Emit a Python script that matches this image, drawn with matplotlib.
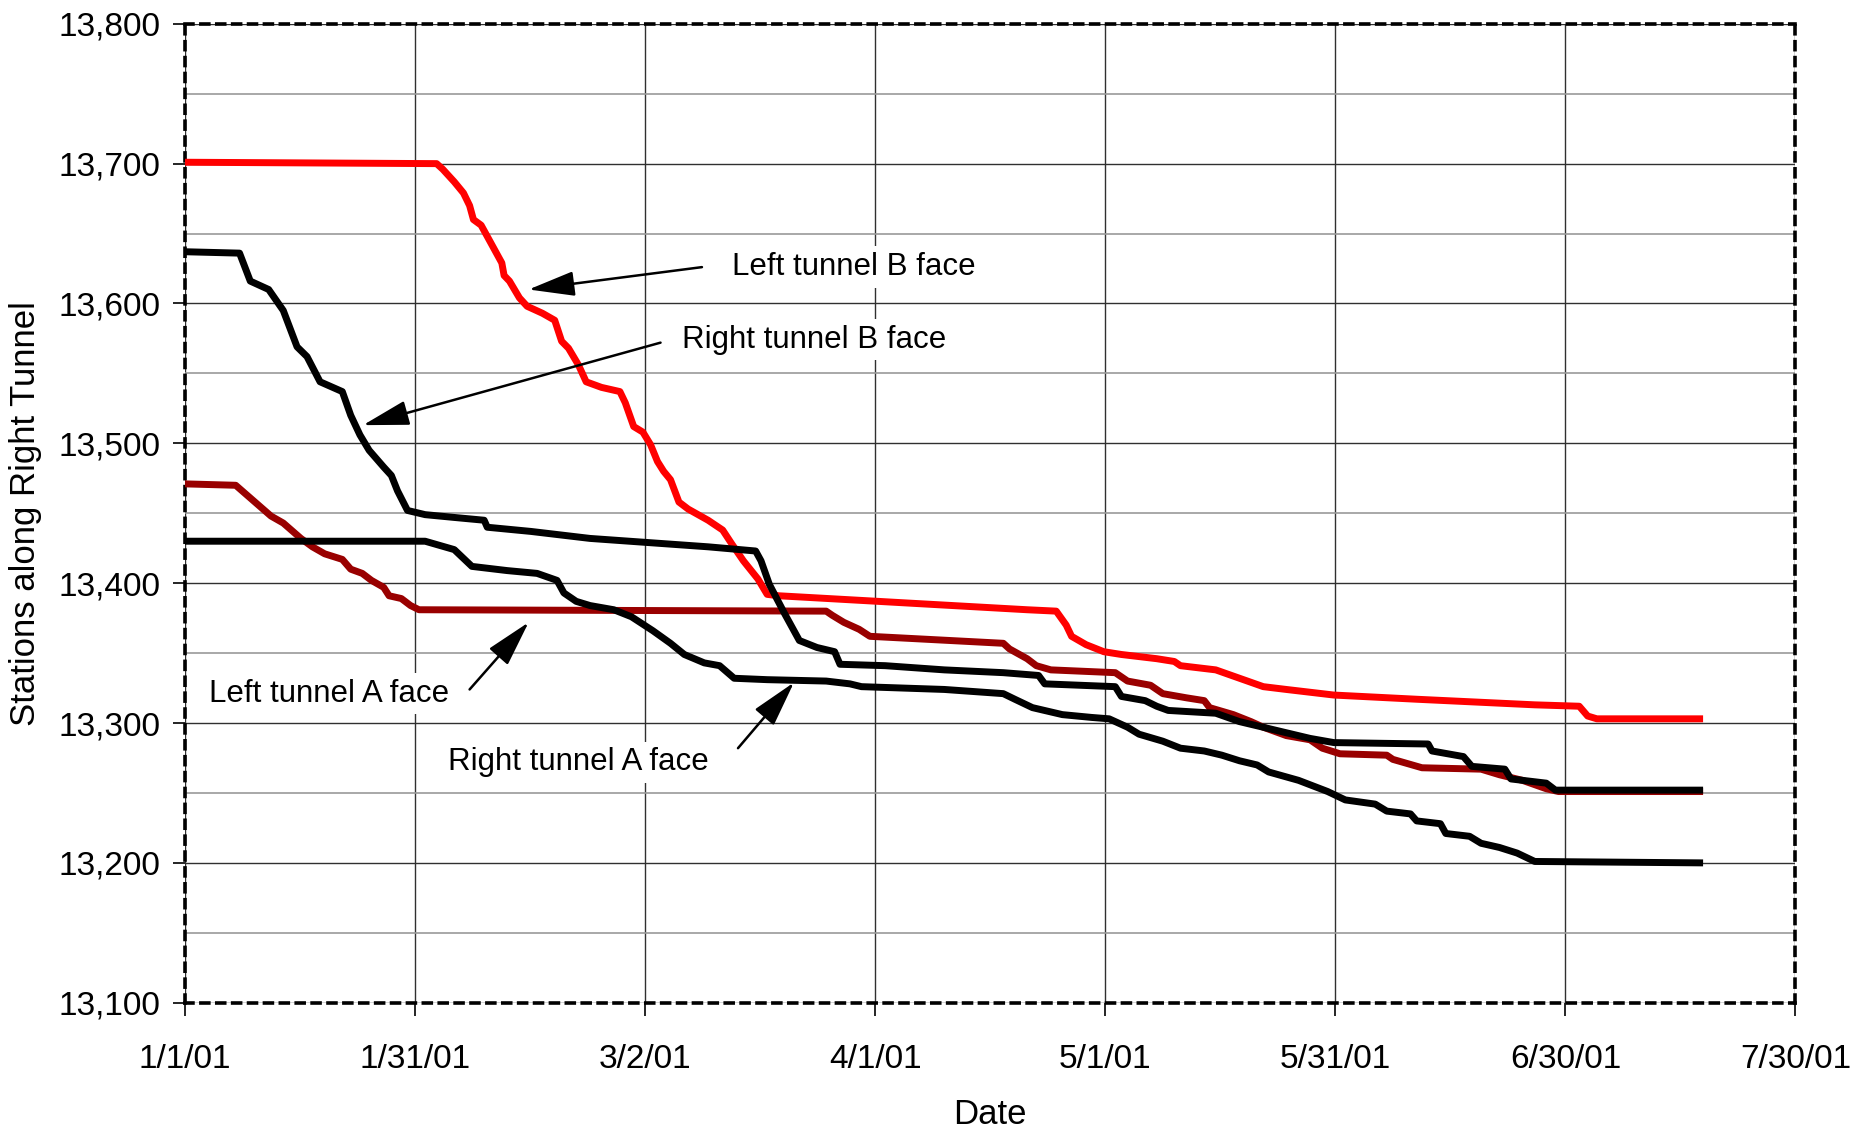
import datetime
import numpy as np
import matplotlib
matplotlib.use("Agg")
import matplotlib.pyplot as plt
import matplotlib.dates as mdates
from matplotlib.ticker import MultipleLocator, FuncFormatter

plt.rcParams['font.family'] = ['Liberation Sans', 'DejaVu Sans']

start = datetime.datetime(2001, 1, 1)

# day offsets from 1/1/01 and station values
left_b_days = [0, 32.8, 33.6, 35.1, 36.3, 37.1, 37.6, 38.6, 39.6, 40.5, 41.3, 41.6, 42.3, 43.6, 44.6, 46.6,
               48.2, 49.1, 50.0, 51.3, 52.3, 54.3, 56.7, 57.4, 58.5, 59.7, 60.7, 61.6, 62.4, 63.3, 64.4, 65.6,
               68.2, 70.1, 71.3, 72.8, 74.7, 75.9, 77.4, 109.8, 113.6, 114.9, 115.6, 117.5, 119.8, 122.1,
               126.7, 129.0, 129.8, 134.4, 137.5, 140.6, 143.6, 149.8, 160.6, 176.0, 181.8, 182.9, 184.1, 197.5]
left_b_sta = [13701, 13700, 13696, 13687, 13679, 13670, 13660, 13656, 13646, 13637, 13629, 13620, 13616, 13604,
              13598, 13593, 13588, 13573, 13568, 13556, 13544, 13540, 13537, 13529, 13512, 13508, 13499, 13487,
              13480, 13474, 13458, 13453, 13445, 13438, 13428, 13416, 13403, 13392, 13391, 13381, 13380, 13370,
              13362, 13356, 13351, 13349, 13346, 13344, 13341, 13338, 13332, 13326, 13324, 13320, 13317, 13313,
              13312, 13305, 13303, 13303]

right_b_days = [0, 7.1, 8.5, 10.9, 12.8, 14.6, 15.9, 17.6, 20.5, 21.6, 22.8, 24.0, 25.9, 26.9, 27.7, 29.0,
                31.3, 35.1, 39.0, 39.4, 45.1, 52.8, 60.5, 68.2, 74.4, 75.1, 76.2, 78.2, 80.1, 82.4, 84.7, 85.4,
                91.3, 99.0, 106.7, 111.3, 112.1, 121.3, 122.1, 125.2, 126.7, 128.2, 134.4, 137.5, 142.1, 146.7,
                149.8, 162.1, 162.6, 166.7, 167.8, 172.1, 172.9, 177.5, 178.7, 197.5]
right_b_sta = [13637, 13636, 13616, 13610, 13595, 13569, 13562, 13544, 13537, 13520, 13506, 13495, 13483, 13477,
               13466, 13452, 13449, 13447, 13445, 13440, 13437, 13432, 13429, 13426, 13423, 13416, 13399, 13378,
               13359, 13354, 13351, 13342, 13341, 13338, 13336, 13334, 13328, 13326, 13319, 13316, 13312, 13309,
               13307, 13301, 13295, 13289, 13286, 13285, 13280, 13276, 13269, 13267, 13260, 13257, 13252, 13252]

left_a_days = [0, 6.6, 8.9, 11.2, 12.8, 15.1, 16.6, 18.2, 20.5, 21.6, 23.1, 24.3, 25.9, 26.6, 28.2, 29.4, 30.5,
               83.6, 84.4, 85.9, 87.9, 89.3, 92.8, 106.7, 107.5, 109.8, 111.0, 112.9, 121.3, 122.9, 125.9, 127.5,
               130.6, 132.9, 133.6, 136.7, 139.0, 140.6, 143.6, 146.7, 148.3, 150.6, 156.7, 157.5, 161.3, 169.0,
               171.4, 174.4, 177.5, 179.1, 197.5]
left_a_sta = [13471, 13470, 13459, 13448, 13443, 13432, 13426, 13421, 13417, 13410, 13407, 13402, 13397, 13391,
              13389, 13384, 13381, 13380, 13377, 13372, 13367, 13362, 13361, 13357, 13353, 13346, 13341, 13338,
              13336, 13330, 13327, 13321, 13318, 13316, 13311, 13306, 13301, 13297, 13291, 13288, 13282, 13278,
              13277, 13274, 13268, 13267, 13263, 13259, 13253, 13251, 13251]

right_a_days = [0, 31.3, 35.1, 37.4, 42.0, 45.9, 48.5, 49.4, 51.0, 52.8, 55.9, 58.2, 61.0, 63.3, 65.1, 67.7,
                69.7, 71.6, 75.9, 83.6, 86.7, 88.2, 99.0, 106.7, 108.2, 110.5, 114.4, 118.2, 120.5, 122.9, 124.4,
                127.5, 129.8, 132.9, 135.2, 137.5, 139.8, 141.3, 145.2, 149.0, 151.3, 155.2, 156.7, 159.8, 160.6,
                163.7, 164.4, 167.5, 169.0, 171.4, 173.7, 176.0, 197.5]
right_a_sta = [13430, 13430, 13424, 13412, 13409, 13407, 13402, 13393, 13387, 13384, 13381, 13376, 13366, 13357,
               13349, 13343, 13341, 13332, 13331, 13330, 13328, 13326, 13324, 13321, 13317, 13311, 13306, 13304,
               13303, 13297, 13292, 13287, 13282, 13280, 13277, 13273, 13270, 13265, 13259, 13251, 13245, 13242,
               13237, 13235, 13230, 13228, 13221, 13219, 13214, 13211, 13207, 13201, 13200]


def to_dates(days):
    return [start + datetime.timedelta(days=d) for d in days]


fig = plt.figure(figsize=(18.51, 11.33), dpi=100)
ax = fig.add_axes([0.100, 0.115, 0.870, 0.864])

lw = 5
ax.plot(to_dates(left_a_days), left_a_sta, color='#990000', lw=lw, zorder=3)
ax.plot(to_dates(right_a_days), right_a_sta, color='black', lw=lw, zorder=4)
ax.plot(to_dates(left_b_days), left_b_sta, color='#ff0000', lw=lw, zorder=3)
ax.plot(to_dates(right_b_days), right_b_sta, color='black', lw=lw, zorder=4)

ax.set_xlim(start, start + datetime.timedelta(days=210))
ax.set_ylim(13100, 13800)

xticks = [start + datetime.timedelta(days=30 * k) for k in range(8)]
ax.set_xticks(xticks)
ax.xaxis.set_major_formatter(FuncFormatter(
    lambda v, p: "%d/%d/%02d" % (mdates.num2date(v).month, mdates.num2date(v).day, mdates.num2date(v).year % 100)))
ax.yaxis.set_major_locator(MultipleLocator(100))
ax.yaxis.set_minor_locator(MultipleLocator(50))
ax.yaxis.set_major_formatter(FuncFormatter(lambda v, p: "{:,.0f}".format(v)))

ax.grid(which='major', axis='both', color='#303030', lw=1.0)
ax.grid(which='minor', axis='y', color='#999999', lw=1.2)
ax.set_axisbelow(True)

ax.tick_params(axis='both', which='major', labelsize=24, length=9, width=1.2, direction='out')
ax.tick_params(axis='y', which='major', pad=9)
ax.tick_params(axis='x', which='major', pad=21)
ax.tick_params(axis='y', which='minor', length=0)

for side in ['left', 'right', 'top', 'bottom']:
    ax.spines[side].set_linestyle((0, (2.2, 2.2)))
    ax.spines[side].set_linewidth(2.6)

ax.set_xlabel('Date', fontsize=25)
ax.set_ylabel('Stations along Right Tunnel', fontsize=25)
ax.xaxis.set_label_coords(0.5, -0.097)
ax.yaxis.set_label_coords(-0.089, 0.5)


def day(d):
    return mdates.date2num(start + datetime.timedelta(days=d))


arrow = dict(arrowstyle='-|>,head_length=1.3,head_width=0.35', mutation_scale=22, color='black', lw=1.8,
             shrinkA=0, shrinkB=0)
box = dict(facecolor='white', edgecolor='none', pad=4)
fs = 22.5

ax.text(day(71.3), 13626, 'Left tunnel B face', fontsize=fs, va='center', ha='left', bbox=box, zorder=6)
ax.annotate('', xy=(day(44.8), 13610), xytext=(day(67.4), 13626), arrowprops=arrow, zorder=6)

ax.text(day(64.8), 13574, 'Right tunnel B face', fontsize=fs, va='center', ha='left', bbox=box, zorder=6)
ax.annotate('', xy=(day(23.2), 13513), xytext=(day(62.0), 13572), arrowprops=arrow, zorder=6)

ax.text(day(3.1), 13321, 'Left tunnel A face', fontsize=fs, va='center', ha='left', bbox=box, zorder=6)
ax.annotate('', xy=(day(44.8), 13372), xytext=(day(37.1), 13324), arrowprops=arrow, zorder=6)

ax.text(day(34.3), 13272, 'Right tunnel A face', fontsize=fs, va='center', ha='left', bbox=box, zorder=6)
ax.annotate('', xy=(day(79.4), 13329), xytext=(day(72.1), 13282), arrowprops=arrow, zorder=6)

fig.savefig('out.png', dpi=100)
